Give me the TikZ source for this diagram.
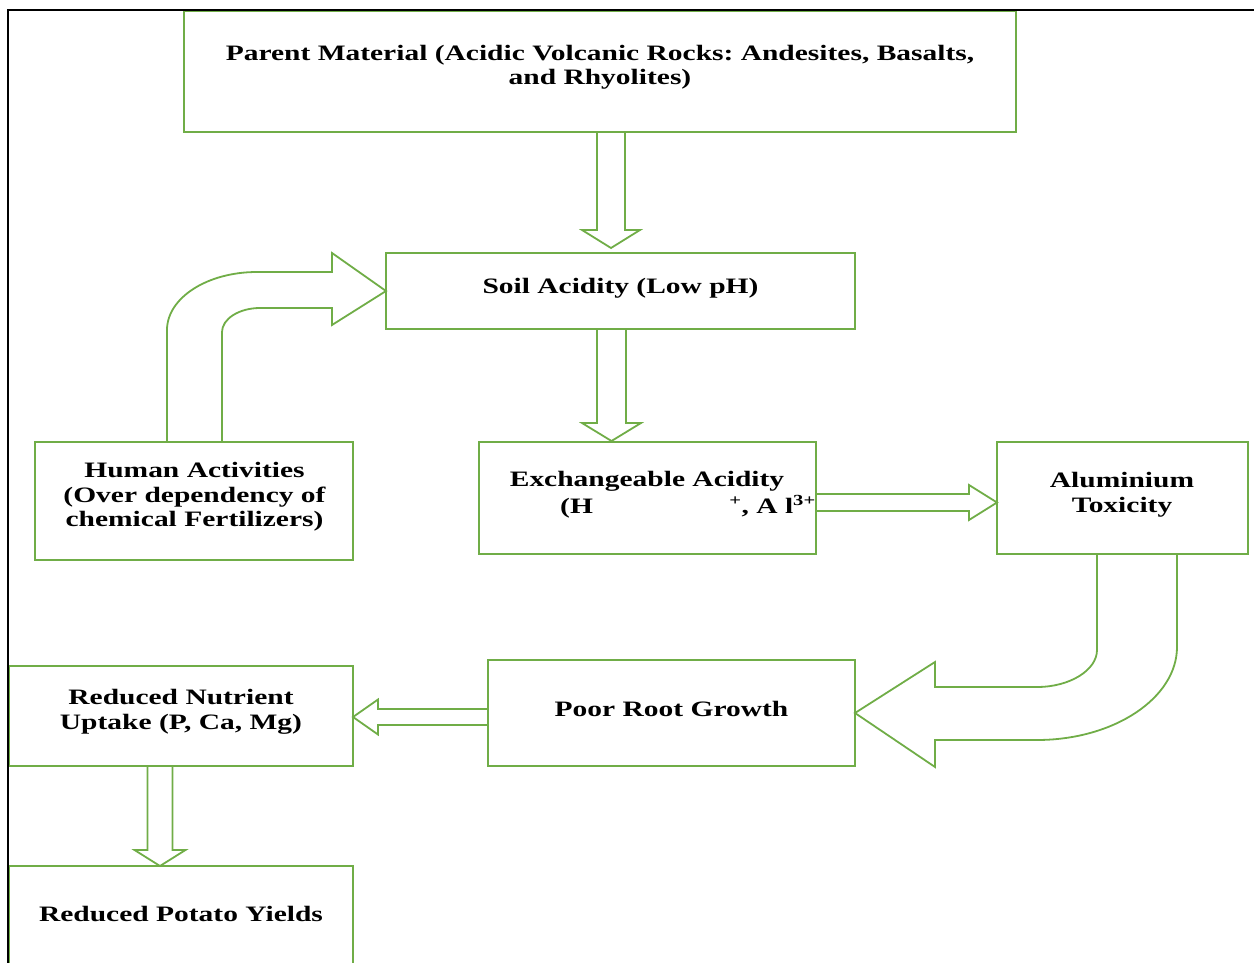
\documentclass[tikz,border=0pt]{standalone}
\usepackage{fontspec}
\setmainfont{Liberation Serif}[FakeStretch=1.34]
\usetikzlibrary{calc}
\definecolor{grn}{HTML}{70AD47}
\frenchspacing
\tikzset{
  box/.style={draw=grn, line width=2pt, inner sep=0pt, outer sep=0pt},
  lbl/.style={font=\fontsize{22}{24.5}\selectfont\bfseries\frenchspacing, align=center, inner sep=0pt},
  blk/.style={draw=grn, line width=1.8pt, line join=miter},
  frame/.style={draw=black, line width=2pt},
}
% straight block arrows: #1 shaft start (centre), #2 tip, #3 half shaft, #4 half head, #5 head length (signed)
\newcommand\blkdown[5]{%
  \draw[blk] let \p1=(#1), \p2=(#2) in
    ({\x1-#3pt},\y1) -- ({\x1-#3pt},{\y2+#5pt}) -- ({\x1-#4pt},{\y2+#5pt}) -- (\x1,\y2)
    -- ({\x1+#4pt},{\y2+#5pt}) -- ({\x1+#3pt},{\y2+#5pt}) -- ({\x1+#3pt},\y1) -- cycle;}
\newcommand\blkhor[5]{%
  \draw[blk] let \p1=(#1), \p2=(#2) in
    (\x1,{\y1+#3pt}) -- ({\x2-(#5pt)},{\y1+#3pt}) -- ({\x2-(#5pt)},{\y1+#4pt}) -- (\x2,\y1)
    -- ({\x2-(#5pt)},{\y1-#4pt}) -- ({\x2-(#5pt)},{\y1-#3pt}) -- (\x1,{\y1-#3pt}) -- cycle;}
\begin{document}
\begin{tikzpicture}[x=1pt, y=-1pt]
\useasboundingbox (0,0) rectangle (1254,963);

% boxes
\node[box, minimum width=832pt, minimum height=121pt] (parent) at (600,71.5) {};
\node[box, minimum width=469pt, minimum height=76pt] (soil) at (620.5,291) {};
\node[box, minimum width=318pt, minimum height=118pt] (human) at (194,501) {};
\node[box, minimum width=337pt, minimum height=112pt] (exch) at (647.5,498) {};
\node[box, minimum width=251pt, minimum height=112pt] (alum) at (1122.5,498) {};
\node[box, minimum width=367pt, minimum height=106pt] (poor) at (671.5,713) {};
\node[box, minimum width=344pt, minimum height=100pt] (nutr) at (181,716) {};
\node[box, minimum width=344pt, minimum height=134pt] (potato) at (181,933) {};

% frame
\coordinate (fb) at (7.5,963);
\coordinate (ftl) at (7.5,10);
\coordinate (ftr) at (1254,10);
\draw[frame] (fb) -- (ftl) -- (ftr);

% labels
\node[lbl] (parent-t) at (600,67) {Parent Material (Acidic Volcanic Rocks: Andesites, Basalts,\\and Rhyolites)};
\node[lbl] (soil-t) at (620.5,288.5) {Soil Acidity (Low pH)};
\node[lbl] (human-t) at (194.5,497) {Human Activities\\(Over dependency of\\chemical Fertilizers)};
\node[lbl] (exch-t) at (647,481.5) {Exchangeable Acidity};
\node[lbl, anchor=base west] (exch-h) at (560,513) {(H};
\node[lbl, anchor=base east] (exch-al) at (816,513) {\textsuperscript{+}, A l\textsuperscript{3+}};
\node[lbl] (alum-t) at (1122,494.5) {Aluminium\\Toxicity};
\node[lbl] (poor-t) at (671.5,708.5) {Poor Root Growth};
\node[lbl] (nutr-t) at (181,712) {Reduced Nutrient\\Uptake (P, Ca, Mg)};
\node[lbl] (potato-t) at (181,913.5) {Reduced Potato Yields};

% straight block arrows
\blkdown{$(parent.south)+(11,0)$}{$(soil.north)+(0,-5)$}{14}{29}{18}
\blkdown{$(soil.south)+(-9,0)$}{$(exch.north)+(0,-1)$}{14.5}{29.5}{18}
\blkhor{$(exch.east)+(0,4.5)$}{alum.west}{8.5}{17.5}{28}
\blkhor{$(poor.west)+(0,4)$}{nutr.east}{8}{17.5}{-25}
\blkdown{$(nutr.south)+(-21,0)$}{potato.north}{12.5}{25.5}{16}

% curved block arrow: human -> soil
\draw[blk]
  ($(human.north west)+(132,0)$) -- ($(human.north west)+(132,-112)$)
  .. controls ($(human.north west)+(132,-144)$) and ($(soil.west)+(-179,-19)$) .. ($(soil.west)+(-129,-19)$)
  -- ($(soil.west)+(-54,-19)$) -- ($(soil.west)+(-54,-38)$) -- (soil.west)
  -- ($(soil.west)+(-54,34)$) -- ($(soil.west)+(-54,17)$) -- ($(soil.west)+(-126,17)$)
  .. controls ($(soil.west)+(-147,17)$) and ($(human.north west)+(187,-123)$) .. ($(human.north west)+(187,-110)$)
  -- ($(human.north west)+(187,0)$);

% curved block arrow: aluminium -> poor root growth
\draw[blk]
  ($(alum.south west)+(100,0)$) -- ($(alum.south west)+(100,96)$)
  .. controls ($(alum.south west)+(100,116)$) and ($(poor.east)+(215,-26)$) .. ($(poor.east)+(182,-26)$)
  -- ($(poor.east)+(80,-26)$) -- ($(poor.east)+(80,-51)$) -- (poor.east)
  -- ($(poor.east)+(80,54)$) -- ($(poor.east)+(80,27)$) -- ($(poor.east)+(182,27)$)
  .. controls ($(poor.east)+(259,27)$) and ($(alum.south west)+(180,144)$) .. ($(alum.south west)+(180,93)$)
  -- ($(alum.south west)+(180,0)$);
\end{tikzpicture}
\end{document}
